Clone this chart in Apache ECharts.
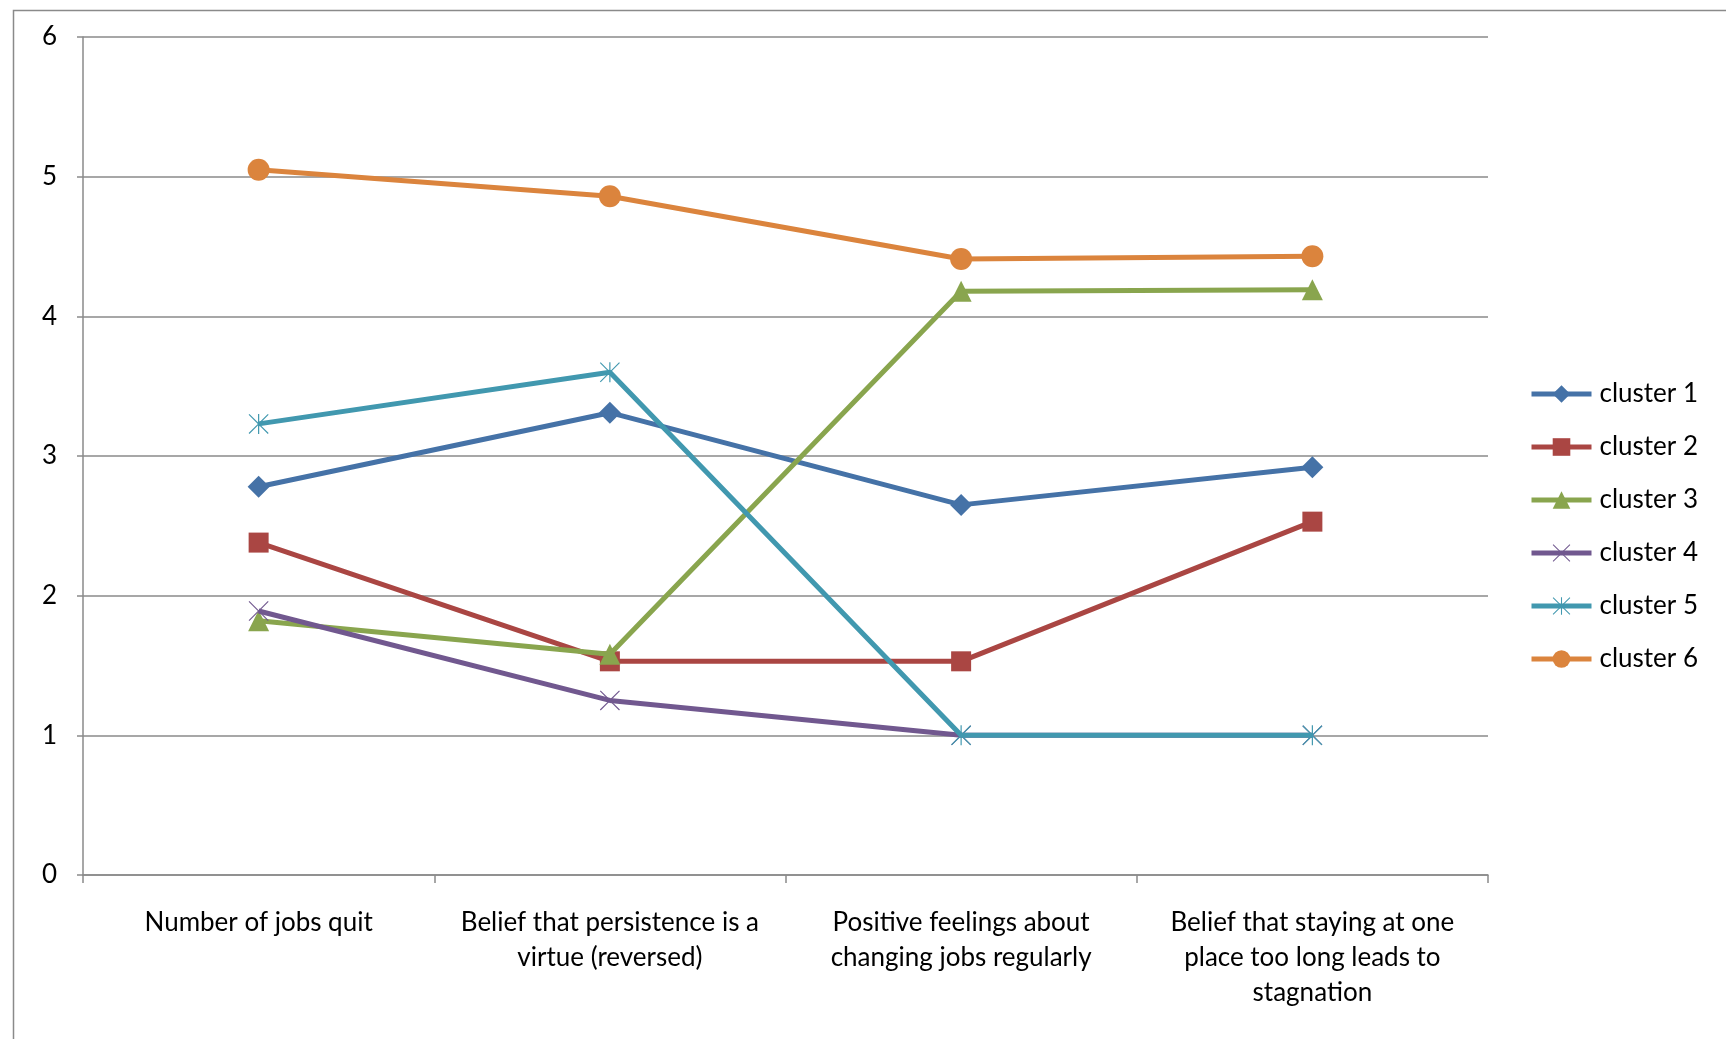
<!DOCTYPE html>
<html>
<head>
<meta charset="utf-8">
<script src="https://cdn.jsdelivr.net/npm/echarts@6/dist/echarts.min.js"></script>
<style>
html,body{margin:0;padding:0;background:#fff;}
#chart{width:1726px;height:1039px;}
</style>
</head>
<body>
<div id="chart"></div>
<script>
const categories = [
  "Number of jobs quit",
  "Belief that persistence is a\nvirtue (reversed)",
  "Positive feelings about\nchanging jobs regularly",
  "Belief that staying at one\nplace too long leads to\nstagnation"
];
const yTicks = [0, 1, 2, 3, 4, 5, 6];
const seriesNames = ["cluster 1", "cluster 2", "cluster 3", "cluster 4", "cluster 5", "cluster 6"];
const cluster1 = [2.78, 3.31, 2.65, 2.92];
const cluster2 = [2.38, 1.53, 1.53, 2.53];
const cluster3 = [1.82, 1.58, 4.18, 4.19];
const cluster4 = [1.89, 1.25, 1.00, 1.00];
const cluster5 = [3.23, 3.60, 1.00, 1.00];
const cluster6 = [5.05, 4.86, 4.41, 4.43];

const values = [cluster1, cluster2, cluster3, cluster4, cluster5, cluster6];
const colors = ["#4572A7", "#AA4643", "#89A54E", "#71588F", "#4198AF", "#DB843D"];
const xPath = "path://M0,0.8L0.8,0L10,9.2L19.2,0L20,0.8L10.8,10L20,19.2L19.2,20L10,10.8L0.8,20L0,19.2L9.2,10Z";
const starPath = "path://M0,0.8L0.8,0L10,9.2L19.2,0L20,0.8L10.8,10L20,19.2L19.2,20L10,10.8L0.8,20L0,19.2L9.2,10ZM9.4,0L10.6,0L10.6,20L9.4,20Z";
const symbols = ["diamond", "rect", "triangle", xPath, starPath, "circle"];
const symbolSizes = [22, 20, 21, 20, 20, 22];
const font = "Lato, 'Liberation Sans', sans-serif";

const chart = echarts.init(document.getElementById('chart'), null, {renderer: 'canvas'});
chart.setOption({
  backgroundColor: '#fff',
  animation: false,
  graphic: [{
    type: 'rect', left: 11, top: 8, silent: true,
    shape: {width: 1800, height: 1100},
    style: {fill: 'none', stroke: '#8a8a8a', lineWidth: 1.5}
  }],
  grid: {left: 83, right: 238, top: 37, bottom: 164, containLabel: false},
  legend: {
    orient: 'vertical',
    left: 1524, top: 376,
    itemWidth: 60, itemHeight: 22, itemGap: 27,
    lineStyle: {width: 5},
    textStyle: {fontFamily: font, fontSize: 26, color: '#000', padding: [0, 0, 0, 3]},
    data: seriesNames
  },
  xAxis: {
    type: 'category',
    data: categories,
    boundaryGap: true,
    axisLine: {lineStyle: {color: '#8a8a8a', width: 1.5}},
    axisTick: {show: true, length: 8, alignWithLabel: false, lineStyle: {color: '#8a8a8a', width: 1.5}},
    axisLabel: {fontFamily: font, fontSize: 26, color: '#000', margin: 30, lineHeight: 35, interval: 0, align: 'center'},
    splitLine: {show: false}
  },
  yAxis: {
    type: 'value',
    min: yTicks[0], max: yTicks[yTicks.length - 1], interval: 1,
    axisLine: {show: true, lineStyle: {color: '#8a8a8a', width: 1.5}},
    axisTick: {show: true, length: 6, lineStyle: {color: '#8a8a8a', width: 1.5}},
    axisLabel: {fontFamily: font, fontSize: 26, color: '#000', margin: 26},
    splitLine: {show: true, lineStyle: {color: '#8a8a8a', width: 1.5}}
  },
  series: seriesNames.map((name, i) => ({
    name: name,
    type: 'line',
    data: values[i],
    symbol: symbols[i],
    symbolSize: symbolSizes[i],
    showAllSymbol: true,
    lineStyle: {color: colors[i], width: 5},
    itemStyle: {color: colors[i], borderWidth: 0},
    emphasis: {disabled: true},
    z: 2 + i
  }))
});
</script>
</body>
</html>
